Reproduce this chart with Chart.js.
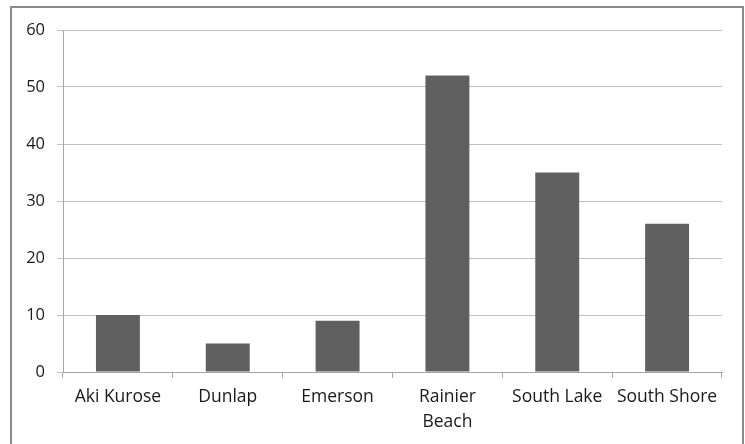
<!DOCTYPE html>
<html>
<head>
<meta charset="utf-8">
<script src="https://cdn.jsdelivr.net/npm/chart.js@4"></script>
<style>
  html, body { margin: 0; padding: 0; background: #ffffff; }
  #wrap { position: relative; width: 745px; height: 444px; }
  canvas { display: block; }
</style>
</head>
<body>
<div id="wrap"><canvas id="chart" width="745" height="444"></canvas></div>
<script>
// School names (multi-line where the label wraps)
const schools = ['Aki Kurose', 'Dunlap', 'Emerson', ['Rainier', 'Beach'], 'South Lake', 'South Shore'];
// Count per school
const counts = [10, 5, 9, 52, 35, 26];
// Value axis ticks
const yTicks = [0, 10, 20, 30, 40, 50, 60];

const FONT = "'Open Sans', Lato, sans-serif";
const TEXT = '#1a1a1a';

// Outer frame around the chart (left, top and right edges)
const framePlugin = {
  id: 'frame',
  afterDraw(chart) {
    const ctx = chart.ctx;
    ctx.save();
    ctx.strokeStyle = '#8a8a8a';
    ctx.lineWidth = 2;
    ctx.beginPath();
    ctx.moveTo(11, 450);
    ctx.lineTo(11, 7);
    ctx.lineTo(743, 7);
    ctx.lineTo(743, 450);
    ctx.stroke();
    ctx.restore();
  }
};

new Chart(document.getElementById('chart'), {
  type: 'bar',
  data: {
    labels: schools,
    datasets: [{
      data: counts,
      backgroundColor: '#606060',
      borderWidth: 0,
      categoryPercentage: 0.8,
      barPercentage: 0.5
    }]
  },
  options: {
    responsive: false,
    animation: false,
    devicePixelRatio: 1,
    layout: { padding: { top: 30, left: 0, right: 23, bottom: 0 } },
    plugins: {
      legend: { display: false },
      tooltip: { enabled: false }
    },
    scales: {
      x: {
        grid: {
          offset: true,
          drawOnChartArea: false,
          drawTicks: true,
          tickLength: 6,
          color: '#a6a6a6'
        },
        border: { color: '#a6a6a6', width: 1 },
        ticks: {
          color: TEXT,
          font: { family: FONT, size: 17.5, lineHeight: 1.4 },
          padding: 7,
          maxRotation: 0,
          autoSkip: false
        },
        afterFit(scale) { scale.height = 72; }
      },
      y: {
        min: 0,
        max: 60,
        afterBuildTicks(scale) { scale.ticks = yTicks.map(v => ({ value: v })); },
        grid: {
          color: '#c0c0c0',
          lineWidth: 1,
          tickLength: 6,
          drawTicks: true
        },
        border: { color: '#a6a6a6', width: 1 },
        ticks: {
          color: TEXT,
          font: { family: FONT, size: 16.5 },
          padding: 12
        },
        afterFit(scale) { scale.width = 63; }
      }
    }
  },
  plugins: [framePlugin]
});
</script>
</body>
</html>
